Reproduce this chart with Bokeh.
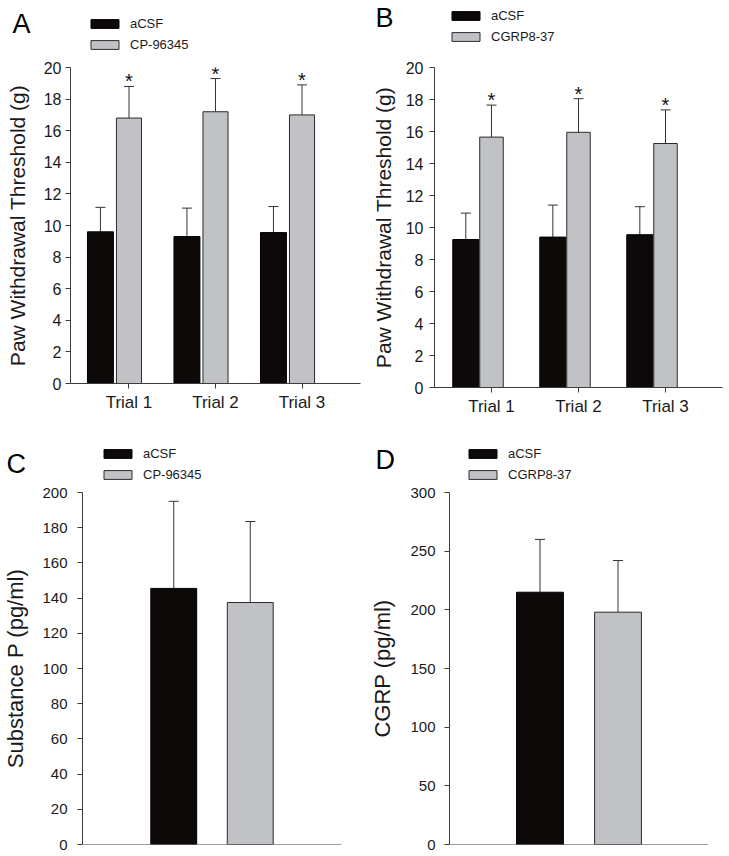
from bokeh.plotting import figure
from bokeh.models import (ColumnDataSource, FactorRange, Range1d, FixedTicker, Whisker,
                          TeeHead, Legend, LegendItem, Label, Span)
from bokeh.transform import dodge
from bokeh.layouts import column, row
from bokeh.embed import file_html
from bokeh.resources import INLINE
from bokeh.core.properties import value

# ---------------- data ----------------
trials = ["Trial 1", "Trial 2", "Trial 3"]
a_acsf_mean = [9.6, 9.3, 9.55]
a_acsf_sem = [1.55, 1.8, 1.65]
a_cp_mean = [16.8, 17.2, 17.0]
a_cp_sem = [2.0, 2.1, 1.9]

b_acsf_mean = [9.25, 9.4, 9.55]
b_acsf_sem = [1.65, 2.0, 1.75]
b_cgrp_mean = [15.65, 15.95, 15.25]
b_cgrp_sem = [2.0, 2.1, 2.1]

c_groups = ["aCSF", "CP-96345"]
c_mean = [145.5, 137.5]
c_sem = [49.5, 46.0]

d_groups = ["aCSF", "CGRP8-37"]
d_mean = [215, 198]
d_sem = [45, 44]

ab_ticks = list(range(0, 21, 2))
c_ticks = list(range(0, 201, 20))
d_ticks = list(range(0, 301, 50))

# ---------------- style ----------------
FONT = "Liberation Sans"
BLACK = "#0e0909"
GRAY = "#c1c2c6"
AXIS = "#3c3c3c"
TEXT = "#1a1a1a"


def base_fig(x_range, y_range, fw, fh, left, right, top, bottom, xaxis):
    p = figure(x_range=x_range, y_range=y_range, frame_width=fw, frame_height=fh,
               min_border_left=left, min_border_right=right,
               min_border_top=top, min_border_bottom=bottom,
               toolbar_location=None, output_backend="svg", title=None,
               x_axis_location="below" if xaxis else None)
    p.outline_line_color = None
    p.border_fill_color = "white"
    p.background_fill_color = "white"
    p.xgrid.visible = False
    p.ygrid.visible = False
    for ax in p.axis:
        ax.axis_line_color = AXIS
        ax.axis_line_width = 1
        ax.major_tick_line_color = AXIS
        ax.major_tick_out = 5
        ax.major_tick_in = 0
        ax.minor_tick_out = 0
        ax.minor_tick_in = 0
        ax.major_label_text_font = FONT
        ax.major_label_text_color = TEXT
        ax.axis_label_text_font = FONT
        ax.axis_label_text_font_style = "normal"
        ax.axis_label_text_color = TEXT
    return p


def header(w, h, letter, letter_xy, lab2, leg_loc):
    p = figure(frame_width=w, frame_height=h, min_border=0,
               x_range=Range1d(0, 1), y_range=Range1d(0, 1),
               toolbar_location=None, output_backend="svg", title=None,
               x_axis_location=None, y_axis_location=None)
    p.outline_line_color = None
    p.border_fill_color = "white"
    p.background_fill_color = "white"
    p.xgrid.visible = False
    p.ygrid.visible = False
    # legend proxies (placed below the visible range)
    r1 = p.vbar(x=[0.5], bottom=[-2], top=[-1.5], width=0.1, fill_color=BLACK,
                line_color="#000000", line_width=1)
    r2 = p.vbar(x=[0.5], bottom=[-2], top=[-1.5], width=0.1, fill_color=GRAY,
                line_color="#2b2b2b", line_width=1)
    leg = Legend(items=[LegendItem(label="aCSF", renderers=[r1]),
                        LegendItem(label=lab2, renderers=[r2])],
                 location=leg_loc, orientation="vertical",
                 glyph_width=35, glyph_height=11, label_height=15, spacing=6,
                 padding=0, margin=0, border_line_color=None,
                 background_fill_alpha=0, label_standoff=8,
                 label_text_font=FONT, label_text_font_size="13px",
                 label_text_color=TEXT)
    p.add_layout(leg)
    p.add_layout(Label(x=letter_xy[0], y=letter_xy[1], x_units="screen", y_units="screen",
                       text=letter, text_font=FONT, text_font_size="27px",
                       text_color="#000000", text_baseline="alphabetic", text_align="left"))
    return p


def trial_panel(mean1, sem1, mean2, sem2, fw, fh, left, right, top, bottom,
                ml_standoff, al_standoff, pad, shift, w1, w2):
    xr = FactorRange(factors=trials, range_padding=pad, range_padding_units="absolute")
    p = base_fig(xr, Range1d(0, 20), fw, fh, left, right, top, bottom, True)
    src = ColumnDataSource(dict(
        x=trials, m1=mean1, u1=[m + s for m, s in zip(mean1, sem1)],
        m2=mean2, u2=[m + s for m, s in zip(mean2, sem2)]))
    p.vbar(x=dodge("x", shift, range=xr), top="m1", width=w1, source=src,
           fill_color=BLACK, line_color="#000000", line_width=1)
    p.vbar(x="x", top="m2", width=w2, source=src,
           fill_color=GRAY, line_color="#2b2b2b", line_width=1)
    p.add_layout(Whisker(source=src, base=dodge("x", shift, range=xr), lower="m1", upper="u1",
                         line_color="#333333", line_width=1, lower_head=None,
                         upper_head=TeeHead(size=10, line_color="#333333", line_width=1)))
    p.add_layout(Whisker(source=src, base="x", lower="m2", upper="u2",
                         line_color="#333333", line_width=1, lower_head=None,
                         upper_head=TeeHead(size=10, line_color="#333333", line_width=1)))
    p.text(x="x", y="u2", text=value("*"), source=src, text_font=value(FONT),
           text_font_size=value("20px"), text_align="center", text_baseline="alphabetic",
           text_color="#111111", y_offset=-5)
    ya = p.yaxis[0]
    ya.ticker = FixedTicker(ticks=ab_ticks)
    ya.major_label_text_font_size = "16px"
    ya.major_label_standoff = ml_standoff
    ya.axis_label = "Paw Withdrawal Threshold (g)"
    ya.axis_label_text_font_size = "21px"
    ya.axis_label_standoff = al_standoff
    xa = p.xaxis[0]
    xa.major_label_text_font_size = "17px"
    xa.major_label_standoff = 4
    return p


def release_panel(groups, means, sems, ticks, ylab, pad, fw, fh, left, right, top, bottom,
                  ml_standoff, al_standoff, ymax):
    xr = FactorRange(factors=groups, range_padding=pad, range_padding_units="absolute")
    p = base_fig(xr, Range1d(0, ymax), fw, fh, left, right, top, bottom, False)
    src = ColumnDataSource(dict(x=groups, m=means, u=[m + s for m, s in zip(means, sems)]))
    s1 = ColumnDataSource(dict(x=groups[:1], m=means[:1]))
    s2 = ColumnDataSource(dict(x=groups[1:], m=means[1:]))
    p.vbar(x="x", top="m", width=0.6, source=s1, fill_color=BLACK,
           line_color="#000000", line_width=1)
    p.vbar(x="x", top="m", width=0.6, source=s2, fill_color=GRAY,
           line_color="#2b2b2b", line_width=1)
    p.add_layout(Whisker(source=src, base="x", lower="m", upper="u",
                         line_color="#333333", line_width=1, lower_head=None,
                         upper_head=TeeHead(size=10, line_color="#333333", line_width=1)))
    p.add_layout(Span(location=0, dimension="width", line_color=AXIS, line_width=1))
    ya = p.yaxis[0]
    ya.ticker = FixedTicker(ticks=ticks)
    ya.major_label_text_font_size = "15px"
    ya.major_label_standoff = ml_standoff
    ya.axis_label = ylab
    ya.axis_label_text_font_size = "22px"
    ya.axis_label_standoff = al_standoff
    return p


# headers (panel letters + legends)
hA = header(364, 55, "A", (12, 32), "CP-96345", (87, 3))
hB = header(365, 55, "B", (11, 38), "CGRP8-37", (84, 11))
hC = header(364, 54, "C", (6, 19), "CP-96345", (100, 0))
hD = header(365, 54, "D", (11, 23), "CGRP8-37", (101, 0))

pA = trial_panel(a_acsf_mean, a_acsf_sem, a_cp_mean, a_cp_sem,
                 290, 316, 70, 4, 12, 45, 4, 12, 0.176, -0.33, 0.30, 0.29)
pB = trial_panel(b_acsf_mean, b_acsf_sem, b_cgrp_mean, b_cgrp_sem,
                 288, 320, 70, 7, 8, 45, 6, 8, 0.155, -0.295, 0.30, 0.27)
pC = release_panel(c_groups, c_mean, c_sem, c_ticks, "Substance P (pg/ml)", 0.693,
                   259, 352, 79, 26, 10, 10, 10, 11, 200)
pD = release_panel(d_groups, d_mean, d_sem, d_ticks, "CGRP (pg/ml)", 0.66,
                   259, 352, 80, 26, 8, 12, 9, 12, 300)

layout = column(row(hA, hB), row(pA, pB), row(hC, hD), row(pC, pD))
open("out.html", "w").write(file_html(layout, INLINE))
